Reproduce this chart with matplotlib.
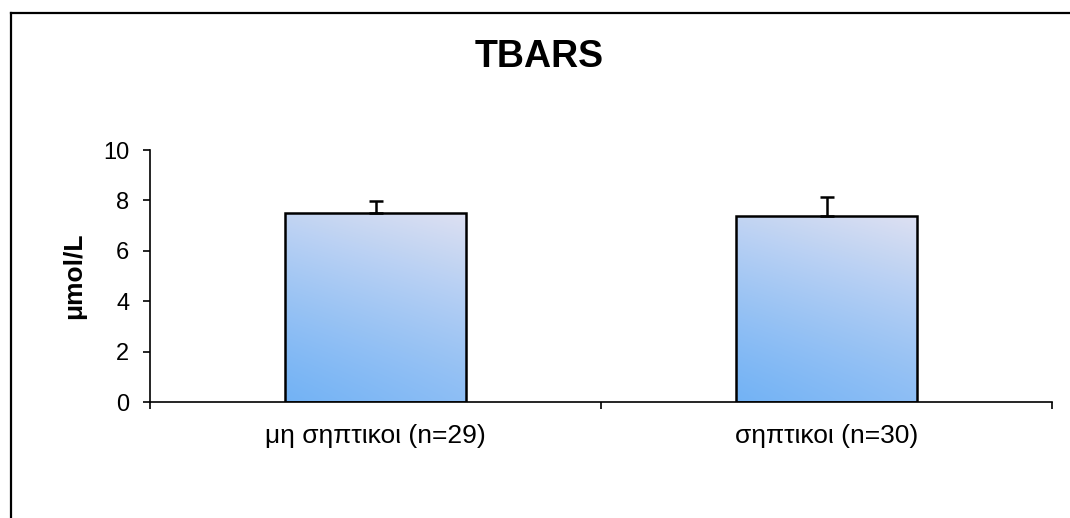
import numpy as np
import matplotlib
matplotlib.use("Agg")
import matplotlib.pyplot as plt
from matplotlib.lines import Line2D

plt.rcParams["font.family"] = ["Liberation Sans", "DejaVu Sans"]

groups = ["μη σηπτικοι (n=29)", "σηπτικοι (n=30)"]
means = [7.5, 7.4]
errors = [0.48, 0.72]
yticks = [0, 2, 4, 6, 8, 10]

fig = plt.figure(figsize=(10.7, 5.18), dpi=100)
ax = fig.add_axes([0.1402, 0.2239, 0.8430, 0.4865])

x = np.arange(len(groups))
bar_w = 0.4

bars = ax.bar(x, means, width=bar_w, color="none", edgecolor="black", linewidth=1.8, zorder=3)
ax.errorbar(x, means, yerr=[np.zeros(len(errors)), errors], fmt="none",
            ecolor="black", elinewidth=1.8, capsize=5, capthick=1.8, zorder=4)

# gradient fill: blue at bottom/left fading to pale lavender at top/right
c_blue = np.array([0.45, 0.70, 0.96])
c_light = np.array([0.87, 0.88, 0.95])
gy, gx = np.mgrid[0:1:200j, 0:1:200j]
s = np.clip(0.75 * gy ** 1.2 + 0.25 * gx, 0, 1)
grad = c_blue[None, None, :] * (1 - s[..., None]) + c_light[None, None, :] * s[..., None]
for rect in bars:
    x0 = rect.get_x()
    w = rect.get_width()
    h = rect.get_height()
    im = ax.imshow(grad, extent=[x0, x0 + w, 0, h], origin="lower",
                   aspect="auto", zorder=2, interpolation="bilinear")
    im.set_clip_path(rect)

ax.set_xlim(-0.5, 1.5)
ax.set_ylim(0, 10)
ax.set_yticks(yticks)
ax.set_yticklabels([str(v) for v in yticks])

# category boundaries carry the x ticks, labels sit at the centres
ax.set_xticks([-0.5, 0.5, 1.5])
ax.set_xticklabels([])
ax.set_xticks(x, minor=True)
ax.set_xticklabels(groups, minor=True)
ax.tick_params(axis="x", which="major", direction="out", length=5, width=1.2)
ax.tick_params(axis="x", which="minor", length=0, pad=16, labelsize=19)
ax.tick_params(axis="y", direction="out", length=5, width=1.2, pad=10, labelsize=17)

for side in ["top", "right"]:
    ax.spines[side].set_visible(False)
for side in ["left", "bottom"]:
    ax.spines[side].set_linewidth(1.2)

ax.set_ylabel("μmol/L", fontsize=19, fontweight="bold", labelpad=12)

fig.text(0.504, 0.89, "TBARS", ha="center", va="center", fontsize=27, fontweight="bold")

# outer chart frame
fig.add_artist(Line2D([10.5 / 1070, 10.5 / 1070], [0, 1 - 13 / 518], transform=fig.transFigure,
                      color="black", linewidth=1.6))
fig.add_artist(Line2D([10.5 / 1070, 1], [1 - 13 / 518, 1 - 13 / 518], transform=fig.transFigure,
                      color="black", linewidth=1.6))

fig.savefig("out.png", dpi=100)
